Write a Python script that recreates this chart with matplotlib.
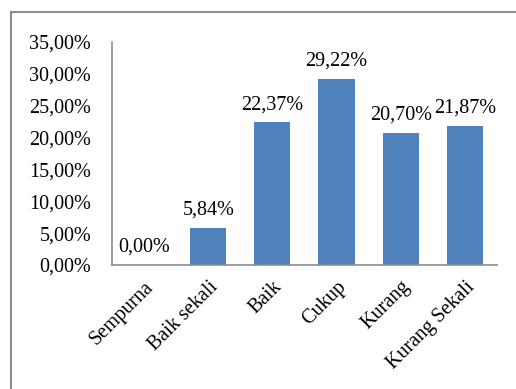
import matplotlib
matplotlib.use("Agg")
import matplotlib.pyplot as plt
from matplotlib.lines import Line2D
from matplotlib.ticker import FuncFormatter

categories = ["Sempurna", "Baik sekali", "Baik", "Cukup", "Kurang", "Kurang Sekali"]
values = [0.00, 5.84, 22.37, 29.22, 20.70, 21.87]
yticks = [0, 5, 10, 15, 20, 25, 30, 35]

plt.rcParams["font.family"] = ["Liberation Serif", "DejaVu Serif"]

fig = plt.figure(figsize=(5.16, 3.89), dpi=100)
ax = fig.add_axes([0.217, 0.319, 0.746, 0.573])

x = range(len(categories))
ax.bar(x, values, width=0.565, color="#4F81BD")
for xi, v in zip(x, values):
    ax.annotate(f"{v:.2f}%".replace(".", ","), (xi, v), xytext=(0, 6),
                textcoords="offset points", ha="center", va="bottom", fontsize=14.5)

ax.set_xlim(-0.5, len(categories) - 0.5)
ax.set_ylim(0, 35)
ax.set_yticks(yticks)
ax.yaxis.set_major_formatter(FuncFormatter(lambda v, _: f"{v:.2f}%".replace(".", ",")))
ax.set_xticks(list(x))
ax.set_xticklabels(categories, rotation=45, ha="right", rotation_mode="anchor")
ax.tick_params(axis="both", length=0, labelsize=14.5)
ax.tick_params(axis="y", pad=15)
ax.tick_params(axis="x", pad=9)

for side in ("top", "right"):
    ax.spines[side].set_visible(False)
for side in ("left", "bottom"):
    ax.spines[side].set_color("#8c8c8c")
    ax.spines[side].set_linewidth(1.2)

# outer chart border (only left and top edges fall inside the crop)
W, H = 516, 389
fig.add_artist(Line2D([11 / W, 11 / W], [0, 1 - 12 / H], transform=fig.transFigure,
                      color="#8c8c8c", lw=1.5))
fig.add_artist(Line2D([11 / W, 1], [1 - 12 / H, 1 - 12 / H], transform=fig.transFigure,
                      color="#8c8c8c", lw=1.5))

fig.savefig("out.png", dpi=100)
